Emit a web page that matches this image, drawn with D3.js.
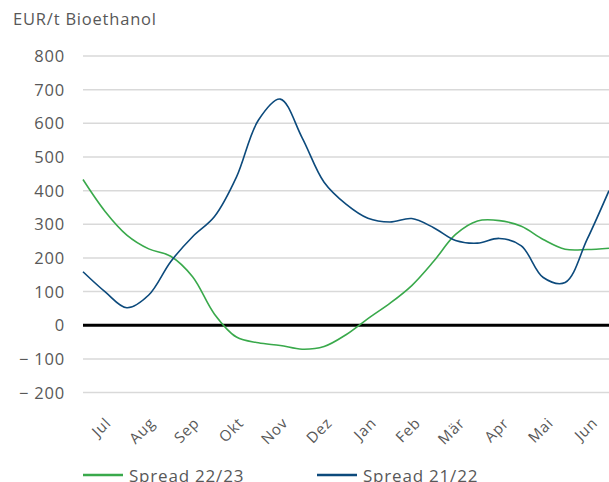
<!DOCTYPE html>
<html>
<head>
<meta charset="utf-8">
<style>
body { margin: 0; background: #fff; }
text { font-family: "Open Sans", sans-serif; fill: #585858; letter-spacing: 0.8px; }
.grid line { stroke: #d9d9d9; stroke-width: 1.5; }
.series { fill: none; stroke-width: 1.6; }
</style>
<script src="https://cdnjs.cloudflare.com/ajax/libs/d3/7.8.5/d3.min.js"></script>
</head>
<body>
<svg id="chart" width="609" height="482"></svg>
<script>
// month labels (Jul .. Jun)
var months = ["Jul", "Aug", "Sep", "Okt", "Nov", "Dez", "Jan", "Feb", "Mär", "Apr", "Mai", "Jun"];
var yTicks = [800, 700, 600, 500, 400, 300, 200, 100, 0, -100, -200];

// values read every half month, from 1 Jul to 30 Jun
var spread2223 = [433, 339, 268, 227, 205, 144, 33, -35, -52, -60, -71, -63, -28,
                  20, 65, 118, 190, 270, 310, 311, 294, 255, 226, 225, 229];
var spread2122 = [159, 100, 52, 90, 189, 263, 323, 440, 609, 672, 557, 425, 360,
                  318, 307, 317, 290, 252, 244, 258, 236, 142, 127, 255, 400];

var seriesNames = ["Spread 22/23", "Spread 21/22"];
var seriesColors = ["#39a94b", "#0c4a7c"];

var svg = d3.select("#chart");

var x = d3.scaleLinear().domain([0, spread2223.length - 1]).range([83, 609]);
var band = d3.scaleBand().domain(months).range([83, 609]);
var y = d3.scaleLinear().domain([-200, 800]).range([392.6, 56]);

// grid
svg.append("g").attr("class", "grid")
  .selectAll("line").data(yTicks).enter().append("line")
  .attr("x1", 83).attr("x2", 609)
  .attr("y1", function(d) { return y(d); })
  .attr("y2", function(d) { return y(d); });

// y labels
svg.append("g").selectAll("text").data(yTicks).enter().append("text")
  .attr("x", 65)
  .attr("y", function(d) { return y(d); })
  .attr("dy", "0.36em")
  .attr("text-anchor", "end")
  .style("font-size", "16.5px")
  .text(function(d) { return d < 0 ? "\u2212 " + Math.abs(d) : d; });

// zero line
svg.append("line")
  .attr("x1", 83).attr("x2", 609)
  .attr("y1", y(0)).attr("y2", y(0))
  .attr("stroke", "#000").attr("stroke-width", 3);

// x labels
svg.append("g").selectAll("text").data(months).enter().append("text")
  .attr("transform", function(d, i) {
    return "translate(" + (band(d) + band.bandwidth() / 2 + 7 + i * 0.4) + ",424) rotate(-45)";
  })
  .attr("text-anchor", "end")
  .style("font-size", "15px")
  .text(function(d) { return d; });

var line = d3.line()
  .x(function(d, i) { return x(i); })
  .y(function(d) { return y(d); })
  .curve(d3.curveCatmullRom.alpha(0.5));

[spread2223, spread2122].forEach(function(s, i) {
  svg.append("path")
    .attr("class", "series")
    .attr("d", line(s))
    .attr("stroke", seriesColors[i]);
});

// legend
var legendX = [83, 317];
seriesNames.forEach(function(name, i) {
  var g = svg.append("g").attr("transform", "translate(" + legendX[i] + ",475)");
  g.append("line").attr("x1", 0).attr("x2", 40).attr("y1", 0).attr("y2", 0)
    .attr("stroke", seriesColors[i]).attr("stroke-width", 2.5);
  g.append("text").attr("x", 46).attr("y", 0).attr("dy", "0.4em")
    .style("font-size", "17px").text(name);
});

// title
svg.append("text").attr("x", 13).attr("y", 25)
  .style("font-size", "16.5px")
  .text("EUR/t Bioethanol");
</script>
</body>
</html>
